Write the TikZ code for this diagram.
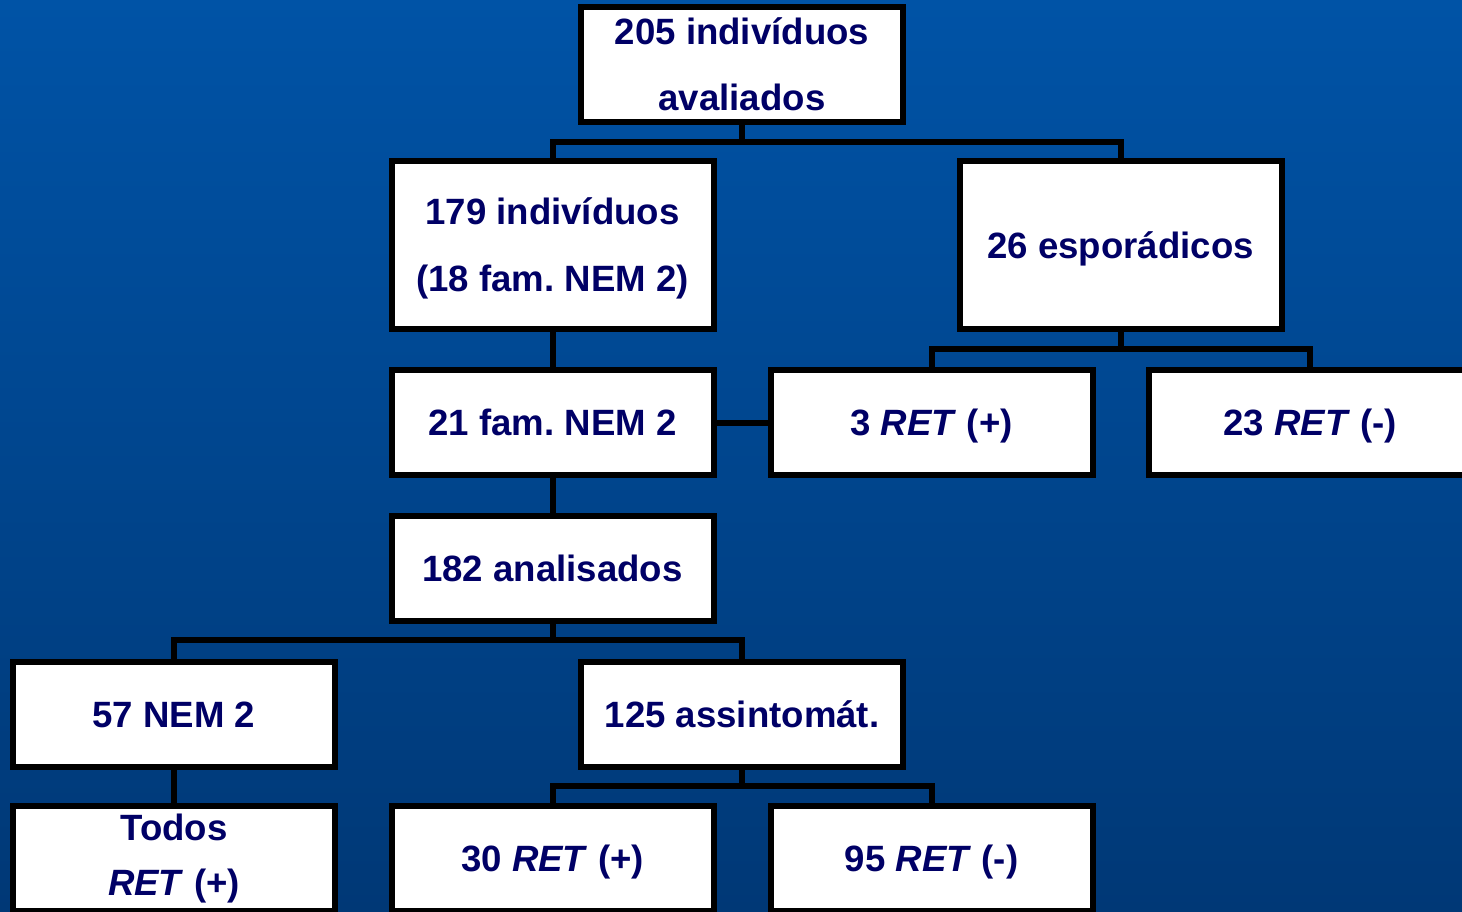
\documentclass[tikz,border=0pt]{standalone}
\usepackage{fontspec}
\setmainfont{Liberation Sans}
\usepackage{tikz}
\usetikzlibrary{%
  positioning
 ,calc
}
\frenchspacing
\definecolor{bgtop}{RGB}{0,83,166}
\definecolor{bgmid}{RGB}{0,102,204}
\definecolor{bgbot}{RGB}{0,56,118}
\definecolor{navytext}{RGB}{0,0,102}
\tikzstyle{tree}=[x=0.5pt,y=-0.5pt,line width=3pt,font=\fontsize{18.3}{33}\selectfont\bfseries]
\tikzstyle{bx}=[rectangle,draw=black,fill=white,text=navytext,align=center,minimum width=161pt,minimum height=52.5pt,inner sep=2pt]
\tikzstyle{one}=[text height=13.1pt,text depth=0pt]
\newcommand{\RET}{\textit{RET}}

\begin{document}
\begin{tikzpicture}[tree]
      \useasboundingbox (0,0) rectangle (1462,911);
      \clip (0,0) rectangle (1462,911);
      \shade[top color=bgtop,middle color=bgmid,bottom color=bgbot] (0,0) rectangle (1462,911);
      % level 0
      \node[bx,minimum height=57.5pt] (n_205) at (742,64.5) {205 indivíduos\\avaliados};
      % level 1
      \node[bx,minimum height=84pt,text depth=0pt,font=\fontsize{18.3}{33.5}\selectfont\bfseries] (n_179) at (552.5,245) {179 indivíduos\\(18 fam. NEM 2)};
      \node[bx,one,minimum height=84pt] (n_26) at (1120.5,245) {26 esporádicos};
      % level 2
      \node[bx,one] (n_21) at (552.5,422.5) {21 fam. NEM 2};
      \node[bx,one] (n_3) at (931.5,422.5) {3 \RET{} (+)};
      \node[bx,one] (n_23) at (1310,422.5) {23 \RET{} (-)};
      % level 3
      \node[bx,one] (n_182) at (552.5,568) {182 analisados};
      % level 4
      \node[bx,one] (n_57) at (174,714) {57 NEM 2};
      \node[bx,one] (n_125) at (742,714) {125 assintomát.};
      % level 5
      \node[bx,font=\fontsize{18.3}{27.5}\selectfont\bfseries] (n_all) at (174,858.5) {Todos\\\RET{} (+)};
      \node[bx,one] (n_30) at (552.5,858.5) {30 \RET{} (+)};
      \node[bx,one] (n_95) at (931.5,858.5) {95 \RET{} (-)};
      % connectors
      \draw (n_205.south) -- ++(0,17) -| (n_179.north);
      \draw (n_205.south) -- ++(0,17) -| (n_26.north);
      \draw (n_179) -- (n_21);
      \draw (n_21) -- (n_3);
      \draw (n_26.south) -- ++(0,17) -| (n_3.north);
      \draw (n_26.south) -- ++(0,17) -| (n_23.north);
      \draw (n_21) -- (n_182);
      \draw (n_182.south) -- ++(0,16) -| (n_57.north);
      \draw (n_182.south) -- ++(0,16) -| (n_125.north);
      \draw (n_57) -- (n_all);
      \draw (n_125.south) -- ++(0,16) -| (n_30.north);
      \draw (n_125.south) -- ++(0,16) -| (n_95.north);
    \end{tikzpicture}
\end{document}
